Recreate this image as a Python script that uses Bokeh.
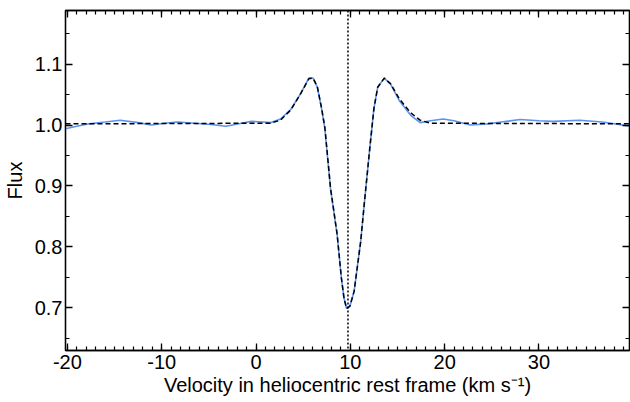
from bokeh.plotting import figure
from bokeh.models import (Range1d, LinearAxis, SingleIntervalTicker, Span,
                          PrintfTickFormatter, CustomJSTickFormatter)
from bokeh.embed import file_html
from bokeh.resources import INLINE

# Observed (blue) profile
vel_obs = [-20.2, -19.0, -17.7, -16.0, -14.4, -12.5, -11.1, -9.7, -8.3, -6.5,
           -4.75, -3.2, -1.8, -0.5, 0.8, 1.6, 2.6, 3.7, 4.75, 5.6, 6.05, 6.5,
           6.95, 7.3, 7.9, 8.6, 9.05, 9.33, 9.6, 9.96, 10.4, 11.1, 11.5, 12.07,
           12.5, 12.9, 13.6, 14.26, 15.2, 16.4, 17.4, 18.5, 19.85, 21.0, 22.7,
           24.5, 26.0, 28.0, 30.0, 31.5, 34.3, 36.7, 38.0, 39.6]
flux_obs = [0.994, 0.998, 1.002, 1.005, 1.008, 1.004, 1.000, 1.003, 1.005, 1.003,
            1.001, 0.998, 1.002, 1.006, 1.005, 1.004, 1.010, 1.026, 1.052, 1.077, 1.077, 1.062,
            1.027, 0.994, 0.895, 0.820, 0.749, 0.716, 0.699, 0.703, 0.727, 0.809, 0.874, 0.963,
            1.027, 1.062, 1.077, 1.067, 1.040, 1.016, 1.004, 1.007, 1.010, 1.007, 1.000,
            1.002, 1.005, 1.009, 1.007, 1.006, 1.008, 1.005, 1.002, 0.998]

# Model fit (black dashed)
vel_fit = [-20.2, 1.5, 2.6, 3.7, 4.75, 5.6, 6.05, 6.5, 6.95, 7.3, 7.9, 8.6, 9.05,
           9.33, 9.6, 9.96, 10.4, 11.1, 11.5, 12.07, 12.5, 12.9, 13.6, 14.26, 15.2,
           16.4, 17.4, 18.5, 39.6]
flux_fit = [1.002, 1.003, 1.008, 1.025, 1.052, 1.076, 1.077, 1.063, 1.028, 0.996,
            0.897, 0.821, 0.749, 0.716, 0.699, 0.703, 0.727, 0.809, 0.874, 0.963,
            1.027, 1.062, 1.077, 1.068, 1.043, 1.020, 1.008, 1.003, 1.002]

v_center = 9.75

FONT = "Liberation Sans"

p = figure(width=630, height=402, output_backend="svg", toolbar_location=None,
           x_range=Range1d(-20.2, 39.6), y_range=Range1d(0.63, 1.188),
           min_border_left=63, min_border_right=1, min_border_top=10,
           min_border_bottom=52, x_axis_location=None, y_axis_location=None)
p.grid.visible = False
p.outline_line_color = "black"
p.outline_line_width = 1.3

def style(ax, labels=True):
    ax.axis_line_color = "black"
    ax.axis_line_width = 1.3
    ax.major_tick_in = 7
    ax.major_tick_out = 0
    ax.minor_tick_in = 4
    ax.minor_tick_out = 0
    ax.major_tick_line_width = 1.3
    ax.minor_tick_line_width = 1.2
    ax.major_tick_line_color = "black"
    ax.minor_tick_line_color = "black"
    if labels:
        ax.major_label_text_font = FONT
        ax.major_label_text_font_size = "20px"
        ax.major_label_text_color = "black"
        ax.axis_label_text_font = FONT
        ax.axis_label_text_font_size = "20px"
        ax.axis_label_text_font_style = "normal"
        ax.axis_label_text_color = "black"
    else:
        ax.major_label_text_font_size = "0px"
        ax.major_label_text_color = None
        ax.major_label_standoff = 0

xt = lambda: SingleIntervalTicker(interval=10, num_minor_ticks=10)
yt = lambda: SingleIntervalTicker(interval=0.1, num_minor_ticks=2)

xb = LinearAxis(ticker=xt(), axis_label="Velocity in heliocentric rest frame (km s\u207b\u00b9)",
                formatter=CustomJSTickFormatter(code="return tick.toFixed(0)"))
style(xb)
xb.major_label_standoff = 4
xb.axis_label_standoff = 2
p.add_layout(xb, "below")

yl = LinearAxis(ticker=yt(), axis_label="Flux", formatter=PrintfTickFormatter(format="%.1f"))
style(yl)
yl.major_label_standoff = 3
yl.axis_label_standoff = 6
p.add_layout(yl, "left")

xa = LinearAxis(ticker=xt())
style(xa, labels=False)
p.add_layout(xa, "above")

yr = LinearAxis(ticker=yt())
style(yr, labels=False)
p.add_layout(yr, "right")

p.line(vel_obs, flux_obs, line_color="#5b93f0", line_width=1.6)
p.line(vel_fit, flux_fit, line_color="black", line_width=1.5, line_dash="5 3")
p.add_layout(Span(location=v_center, dimension="height", line_color="black",
                  line_width=1.5, line_dash="2 2"))

open("out.html", "w").write(file_html(p, INLINE))
